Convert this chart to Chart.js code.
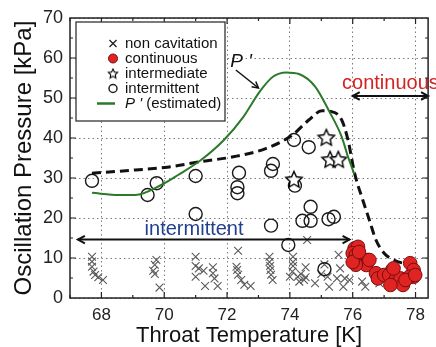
<!DOCTYPE html>
<html>
<head>
<meta charset="utf-8">
<script src="https://cdn.jsdelivr.net/npm/chart.js@4.4.1/dist/chart.umd.min.js"></script>
<style>
  html, body { margin: 0; padding: 0; background: #fff; }
  #chart { display: block; }
</style>
</head>
<body>
<canvas id="chart" width="436" height="347"></canvas>
<script>
'use strict';
// ***** DATA *****
let xTicks = [68, 70, 72, 74, 76, 78];
let yTicks = [0, 10, 20, 30, 40, 50, 60, 70];

// non cavitation (x marks)
let nonCavX = [67.7, 67.7, 67.7, 67.75, 67.8, 67.9, 68.05,
  69.75, 69.7, 69.65, 69.7, 69.85,
  71.0, 71.0, 71.1, 71.25, 71.0, 71.3, 71.55, 71.55, 71.6, 71.7,
  72.35, 72.3, 72.32, 72.35, 72.45, 72.55, 72.75,
  73.35, 73.35, 73.37, 73.38, 73.4, 73.45,
  74.1, 74.1, 74.1, 74.08, 74.0, 74.25, 74.3, 74.45, 74.55, 74.5, 74.5, 74.8, 74.35,
  75.1, 75.2, 75.25, 75.55, 75.6, 75.5, 75.75, 75.7, 75.9, 76.3, 76.4, 76.85, 75.0];
let nonCavY = [10.3, 9.1, 7.8, 6.6, 5.75, 5.2, 4.5,
  9.5, 8.3, 6.8, 6.0, 2.6,
  10.3, 8.0, 7.4, 6.8, 5.3, 3.0, 7.7, 6.2, 4.9, 3.0,
  11.8, 7.8, 7.0, 5.8, 4.5, 3.3, 3.0,
  10.3, 9.0, 8.0, 7.0, 5.8, 4.5,
  10.3, 9.0, 8.0, 6.6, 5.3, 5.3, 4.1, 4.5, 14.5, 7.7, 5.2, 3.7, 6.0,
  8.4, 5.3, 2.8, 10.8, 7.4, 4.9, 4.9, 2.8, 4.5, 4.1, 2.8, 3.7, 6.0];

// continuous (red dots)
let contX = [76.06, 76.17, 76.0, 76.1, 76.27, 76.48, 76.43, 76.1, 76.0, 76.74, 76.8, 77.0, 77.26, 77.3,
  77.16, 77.36, 77.52, 77.6, 77.83, 77.94, 77.94, 77.8, 77.2, 77.68, 77.99, 77.3, 76.53, 76.2];
let contY = [12.4, 12.8, 11.2, 10.75, 9.9, 9.5, 8.25, 8.3, 9.0, 6.2, 4.9, 5.75, 7.0, 5.75,
  5.75, 4.5, 4.9, 3.25, 8.7, 7.0, 5.3, 5.3, 3.25, 4.5, 5.75, 7.4, 9.5, 11.5];

// intermediate (stars)
let interX = [75.16, 75.28, 75.54, 74.13];
let interY = [40.2, 34.7, 34.7, 29.7];

// intermittent (open circles)
let intermX = [67.7, 69.47, 69.76, 71.0, 71.0, 72.38, 72.33, 72.33, 73.46, 73.4, 73.4,
  74.13, 74.16, 74.6, 74.66, 74.4, 74.66, 75.23, 75.4, 73.95, 75.1];
let intermY = [29.3, 25.75, 28.7, 30.5, 21.0, 31.3, 27.7, 26.2, 33.5, 31.8, 18.1,
  39.5, 28.1, 37.7, 22.8, 19.3, 19.3, 19.7, 20.3, 13.25, 7.2];

// P' (estimated), green curve
let estX = [67.7, 68.56, 69.08, 69.9, 70.44, 71.17, 71.9, 72.52, 73.04, 73.46, 73.88, 74.29,
  74.81, 75.23, 75.65, 75.85, 76.05];
let estY = [26.3, 25.75, 25.75, 28.25, 30.75, 34.5, 39.5, 45.3, 51.6, 55.3, 56.4, 56.0,
  52.8, 47.0, 40.3, 35.3, 31.0];

// measured P', dashed curve
let measX = [67.7, 69.08, 70.1, 71.17, 72.2, 73.25, 74.08, 74.6, 75.02, 75.33, 75.65, 75.85,
  76.06, 76.32, 76.53, 76.74, 77.0, 77.31, 77.68, 77.8];
let measY = [31.2, 32.0, 32.7, 34.1, 35.3, 37.4, 40.75, 44.5, 46.8, 46.6, 44.5, 39.5,
  31.2, 24.5, 19.5, 14.5, 11.2, 9.5, 8.7, 8.8];

// annotations (data coordinates)
let regionArrows = [
  { x1: 67.25, x2: 75.9, y: 14.6 },
  { x1: 76.0, x2: 78.4, y: 50.5 }
];
let pointerArrow = { x1: 72.28, y1: 57.0, x2: 73.0, y2: 52.5 };

const FONT = "'Liberation Sans', Arial, sans-serif";

// ***** HELPERS *****
function toPoints(xs, ys) {
  return xs.map((x, i) => ({ x: x, y: ys[i] }));
}

function makeStar(size, lineWidth) {
  let c = document.createElement('canvas');
  c.width = size;
  c.height = size;
  let g = c.getContext('2d');
  let r = size / 2 - lineWidth;
  let cx = size / 2;
  let cy = size / 2 + r * 0.1;
  g.beginPath();
  for (let i = 0; i < 10; i++) {
    let rad = i % 2 ? r * 0.48 : r;
    let a = -Math.PI / 2 + i * Math.PI / 5;
    g.lineTo(cx + rad * Math.cos(a), cy + rad * Math.sin(a));
  }
  g.closePath();
  g.fillStyle = '#fff';
  g.fill();
  g.lineWidth = lineWidth;
  g.strokeStyle = '#000';
  g.stroke();
  return c;
}

let bigStar = makeStar(20, 1.4);
let smallStar = makeStar(12, 1.1);

function arrowHead(ctx, x, y, angle, len) {
  ctx.beginPath();
  ctx.moveTo(x + len * Math.cos(angle + 0.5), y + len * Math.sin(angle + 0.5));
  ctx.lineTo(x, y);
  ctx.lineTo(x + len * Math.cos(angle - 0.5), y + len * Math.sin(angle - 0.5));
  ctx.stroke();
}

// ***** PLUGINS *****
// frame + inward ticks on all four sides
const framePlugin = {
  id: 'frame',
  afterDraw(chart) {
    let { ctx, chartArea: a, scales: { x, y } } = chart;
    ctx.save();
    ctx.strokeStyle = '#222';
    ctx.lineWidth = 1.5;
    ctx.strokeRect(a.left, a.top, a.right - a.left, a.bottom - a.top);
    ctx.lineWidth = 1.2;
    ctx.beginPath();
    for (let v = 67; v <= 78; v++) {
      let px = x.getPixelForValue(v);
      let len = v % 2 ? 3 : 6;
      ctx.moveTo(px, a.bottom); ctx.lineTo(px, a.bottom - len);
      ctx.moveTo(px, a.top); ctx.lineTo(px, a.top + len);
    }
    for (let v = 5; v < 70; v += 5) {
      let py = y.getPixelForValue(v);
      let len = v % 10 ? 3 : 6;
      ctx.moveTo(a.left, py); ctx.lineTo(a.left + len, py);
      ctx.moveTo(a.right, py); ctx.lineTo(a.right - len, py);
    }
    ctx.stroke();
    ctx.restore();
  }
};

// arrows and region labels
const annotationPlugin = {
  id: 'notes',
  afterDatasetsDraw(chart) {
    let { ctx, scales: { x, y } } = chart;
    ctx.save();
    ctx.strokeStyle = '#111';
    ctx.lineWidth = 2;
    regionArrows.forEach((ar) => {
      let x1 = x.getPixelForValue(ar.x1);
      let x2 = x.getPixelForValue(ar.x2);
      let py = y.getPixelForValue(ar.y);
      ctx.beginPath();
      ctx.moveTo(x1, py);
      ctx.lineTo(x2, py);
      ctx.stroke();
      arrowHead(ctx, x1, py, 0, 8);
      arrowHead(ctx, x2, py, Math.PI, 8);
    });

    // pointer to P' curve
    let p1x = x.getPixelForValue(pointerArrow.x1);
    let p1y = y.getPixelForValue(pointerArrow.y1);
    let p2x = x.getPixelForValue(pointerArrow.x2);
    let p2y = y.getPixelForValue(pointerArrow.y2);
    ctx.lineWidth = 1.5;
    ctx.beginPath();
    ctx.moveTo(p1x, p1y);
    ctx.lineTo(p2x, p2y);
    ctx.stroke();
    arrowHead(ctx, p2x, p2y, Math.atan2(p1y - p2y, p1x - p2x), 7);

    ctx.textBaseline = 'alphabetic';
    ctx.font = '20px ' + FONT;
    ctx.fillStyle = '#213e8f';
    ctx.textAlign = 'center';
    ctx.fillText('intermittent', x.getPixelForValue(70.95), y.getPixelForValue(15.75));
    ctx.fillStyle = '#d42222';
    ctx.textAlign = 'left';
    ctx.fillText('continuous', x.getPixelForValue(75.66), y.getPixelForValue(52.2));
    ctx.fillStyle = '#111';
    ctx.font = 'italic 19px ' + FONT;
    ctx.fillText("P '", x.getPixelForValue(72.1), y.getPixelForValue(57.75));
    ctx.restore();
  }
};

// legend box in the upper left corner
const legendPlugin = {
  id: 'boxLegend',
  afterDraw(chart) {
    let ctx = chart.ctx;
    let left = 76, top = 22, w = 149, h = 99;
    ctx.save();
    ctx.fillStyle = '#fff';
    ctx.fillRect(left, top, w, h);
    ctx.strokeStyle = '#333';
    ctx.lineWidth = 1.3;
    ctx.strokeRect(left, top, w, h);

    let symX = 113, textX = 125;
    let rows = [43.5, 58.5, 73.5, 88.5, 103.5];
    ctx.font = '15px ' + FONT;
    ctx.textBaseline = 'middle';
    ctx.textAlign = 'left';
    ctx.fillStyle = '#111';
    let labels = ['non cavitation', 'continuous', 'intermediate', 'intermittent'];
    labels.forEach((t, i) => ctx.fillText(t, textX, rows[i]));

    // symbols
    ctx.strokeStyle = '#222';
    ctx.lineWidth = 1.3;
    Chart.helpers.drawPoint(ctx, { pointStyle: 'crossRot', radius: 5, borderWidth: 1.3 }, symX, rows[0]);
    ctx.fillStyle = '#e02424';
    ctx.strokeStyle = '#7a0d0d';
    ctx.lineWidth = 1;
    Chart.helpers.drawPoint(ctx, { pointStyle: 'circle', radius: 4.5, borderWidth: 1 }, symX, rows[1]);
    ctx.drawImage(smallStar, symX - 6, rows[2] - 6);
    ctx.strokeStyle = '#222';
    ctx.lineWidth = 1.5;
    ctx.beginPath();
    ctx.arc(symX, rows[3], 4, 0, Math.PI * 2);
    ctx.stroke();
    ctx.strokeStyle = '#2a7a2a';
    ctx.lineWidth = 2.5;
    ctx.beginPath();
    ctx.moveTo(97, rows[4]);
    ctx.lineTo(115, rows[4]);
    ctx.stroke();
    ctx.fillStyle = '#111';
    ctx.font = 'italic 15px ' + FONT;
    ctx.fillText("P '", textX, rows[4]);
    let pw = ctx.measureText("P ' ").width;
    ctx.font = '15px ' + FONT;
    ctx.fillText('(estimated)', textX + pw, rows[4]);
    ctx.restore();
  }
};

// ***** CHART *****
let ctx = document.getElementById('chart');

let chartDatasets = [
  {
    label: 'non cavitation',
    data: toPoints(nonCavX, nonCavY),
    pointStyle: 'crossRot',
    pointRadius: 5.5,
    borderColor: '#5a5a5a',
    borderWidth: 1.1,
    backgroundColor: '#5a5a5a',
    order: 5
  },
  {
    label: 'intermittent',
    data: toPoints(intermX, intermY),
    pointStyle: 'circle',
    pointRadius: 6.5,
    borderColor: '#1a1a1a',
    borderWidth: 1.4,
    backgroundColor: 'rgba(255,255,255,0)',
    order: 4
  },
  {
    label: 'measured',
    data: toPoints(measX, measY),
    showLine: true,
    pointRadius: 0,
    borderColor: '#111',
    borderWidth: 3,
    borderDash: [9, 5],
    cubicInterpolationMode: 'monotone',
    order: 3
  },
  {
    label: 'intermediate',
    data: toPoints(interX, interY),
    pointStyle: bigStar,
    order: 2
  },
  {
    label: "P ' (estimated)",
    data: toPoints(estX, estY),
    showLine: true,
    pointRadius: 0,
    borderColor: '#2a7a2a',
    borderWidth: 2,
    cubicInterpolationMode: 'monotone',
    order: 1
  },
  {
    label: 'continuous',
    data: toPoints(contX, contY),
    pointStyle: 'circle',
    pointRadius: 6.8,
    borderColor: '#7a0d0d',
    borderWidth: 1,
    backgroundColor: '#e02424',
    order: 0
  }
];

let chartOptions = {
  responsive: false,
  animation: false,
  layout: { padding: { top: 18, right: 1, left: 0, bottom: 0 } },
  plugins: {
    legend: { display: false },
    tooltip: { enabled: false }
  },
  scales: {
    x: {
      type: 'linear',
      min: 67,
      max: 78.4,
      afterBuildTicks: (s) => { s.ticks = xTicks.map((v) => ({ value: v })); },
      afterFit: (s) => { s.height = 49; },
      grid: { color: '#7a7a7a', lineWidth: 1, drawTicks: false },
      border: { display: false, dash: [1.5, 3] },
      ticks: { color: '#222', padding: 7, maxRotation: 0, font: { family: FONT, size: 17 } },
      title: {
        display: true,
        text: 'Throat Temperature [K]',
        color: '#111',
        padding: { top: 0, bottom: -2 },
        font: { family: FONT, size: 22 }
      }
    },
    y: {
      type: 'linear',
      min: 0,
      max: 70,
      afterBuildTicks: (s) => { s.ticks = yTicks.map((v) => ({ value: v })); },
      afterFit: (s) => { s.width = 70; },
      grid: { color: '#7a7a7a', lineWidth: 1, drawTicks: false },
      border: { display: false, dash: [1.5, 3] },
      ticks: { color: '#222', padding: 7, font: { family: FONT, size: 18 } },
      title: {
        display: true,
        text: 'Oscillation Pressure [kPa]',
        color: '#111',
        padding: { top: 10, bottom: 0 },
        font: { family: FONT, size: 24 }
      }
    }
  }
};

new Chart(ctx, {
  type: 'scatter',
  data: { datasets: chartDatasets },
  options: chartOptions,
  plugins: [framePlugin, annotationPlugin, legendPlugin]
});
</script>
</body>
</html>
